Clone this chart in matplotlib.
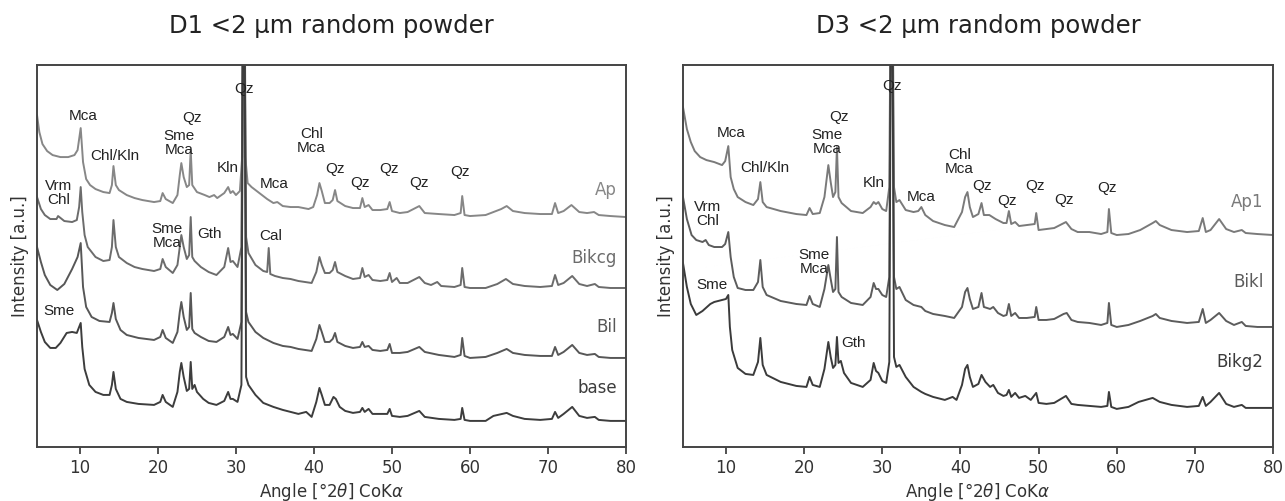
import matplotlib
matplotlib.use("Agg")
import numpy as np
import matplotlib.pyplot as plt

plt.rcParams["font.family"] = ["DejaVu Sans"]
plt.rcParams["mathtext.fontset"] = "dejavusans"

# D1 panel - (angle, intensity), arbitrary units
d1_ap_angle = [4.5, 4.8, 5.2, 5.8, 6.5, 7.5, 8.5, 9.3, 9.7, 10.1, 10.4, 10.8, 11.3, 12, 13, 13.8, 14.1, 14.3, 14.6, 15, 16, 17, 18, 19.5, 20.3, 20.6, 21, 21.9, 22.5, 22.8, 23.0, 23.3, 23.7, 24.0, 24.2, 24.4, 25, 26, 26.6, 27.2, 27.6, 28.5, 29.0, 29.3, 29.6, 30.0, 30.5, 30.8, 31.0, 31.2, 31.5, 32, 33, 34, 34.8, 35.3, 36, 37, 38, 39.3, 39.9, 40.4, 40.7, 41.0, 41.4, 42, 42.4, 42.7, 43, 44, 45, 45.9, 46.2, 46.5, 47, 47.5, 48.5, 49.4, 49.7, 50, 51, 52, 53.5, 54.2, 56, 58, 58.8, 59.0, 59.3, 60, 62, 64, 64.7, 65.5, 67, 69, 70.5, 70.9, 71.3, 72, 73.0, 74, 75, 75.9, 76.5, 78, 80]
d1_ap_int = [332, 315, 303, 296, 292, 290, 290, 292, 297, 319, 285, 268, 262, 258, 255, 254, 262, 281, 262, 257, 252, 249, 247, 245, 246, 254, 248, 244, 252, 272, 284, 270, 260, 262, 297, 262, 255, 252, 250, 252, 249, 254, 260, 254, 256, 252, 256, 290, 600, 290, 264, 260, 254, 248, 244, 245, 241, 240, 240, 238, 240, 252, 264, 256, 244, 244, 247, 257, 246, 241, 239, 239, 249, 240, 242, 237, 237, 238, 245, 236, 234, 235, 241, 234, 233, 232, 234, 251, 232, 231, 232, 238, 241, 236, 234, 233, 233, 244, 234, 236, 242, 235, 234, 235, 232, 231, 230]

d1_bikcg_angle = [4.5, 5.0, 5.5, 6.2, 7.0, 7.2, 8, 9, 9.6, 9.9, 10.1, 10.3, 10.6, 11, 12, 13, 13.8, 14.1, 14.3, 14.6, 15, 16, 17, 18, 19.5, 20.3, 20.6, 21, 21.9, 22.5, 22.8, 23.0, 23.3, 23.7, 24.0, 24.2, 24.4, 24.7, 25.5, 26.5, 27.5, 28.5, 29.0, 29.3, 29.6, 30.2, 30.7, 31.0, 31.3, 31.6, 32.5, 33.5, 34.0, 34.2, 34.4, 35, 36, 37, 38, 39.7, 40.3, 40.7, 41.0, 41.4, 42, 42.4, 42.7, 43, 44, 45, 45.9, 46.2, 46.5, 47, 47.5, 48.5, 49.4, 49.7, 50, 50.6, 51, 52, 53.5, 54.2, 55, 55.8, 56.3, 58, 58.8, 59.0, 59.3, 60, 62, 63.5, 64.6, 65.5, 67, 69, 70.5, 70.9, 71.3, 72, 73.1, 74, 75, 76, 76.5, 78, 80]
d1_bikcg_int = [250, 238, 232, 228, 228, 231, 226, 225, 227, 240, 260, 235, 212, 200, 190, 186, 187, 200, 227, 200, 190, 184, 180, 178, 176, 178, 188, 180, 174, 182, 200, 212, 200, 188, 192, 230, 190, 186, 180, 175, 172, 180, 199, 185, 186, 180, 200, 600, 210, 194, 182, 176, 175, 199, 173, 171, 169, 168, 166, 164, 175, 190, 182, 174, 174, 177, 185, 175, 171, 168, 169, 179, 170, 172, 167, 166, 167, 174, 165, 169, 164, 164, 170, 164, 162, 165, 161, 160, 162, 179, 160, 159, 159, 163, 168, 163, 161, 160, 161, 172, 162, 164, 171, 163, 161, 163, 160, 159, 159]

d1_bil_angle = [4.5, 5.0, 5.5, 6.2, 7.1, 8, 9, 9.7, 10.1, 10.4, 10.8, 11.5, 12.5, 13.8, 14.1, 14.3, 14.6, 15.2, 16, 17.5, 19.5, 20.3, 20.6, 21, 21.9, 22.5, 22.8, 23.0, 23.3, 23.7, 24.0, 24.2, 24.4, 24.7, 25.5, 26.5, 27.5, 28.5, 29.0, 29.3, 29.6, 30.2, 30.7, 31.0, 31.3, 31.6, 32.5, 33.5, 34.8, 36, 37, 38, 39.7, 40.3, 40.7, 41.0, 41.4, 42, 42.4, 42.7, 43, 44, 45, 45.9, 46.2, 46.5, 47, 47.5, 48.5, 49.4, 49.7, 50, 51, 52, 53.5, 54.2, 56, 58, 58.8, 59.0, 59.3, 60, 62, 63.5, 64.7, 65.5, 67, 69, 70.5, 70.9, 71.3, 72, 73.1, 74, 75, 76, 76.5, 78, 80]
d1_bil_int = [200, 185, 172, 162, 157, 163, 178, 190, 204, 160, 140, 130, 126, 125, 134, 144, 128, 117, 112, 109, 107, 110, 117, 109, 104, 115, 135, 145, 130, 117, 120, 154, 118, 114, 110, 106, 105, 110, 120, 112, 113, 108, 125, 600, 135, 125, 115, 109, 104, 101, 100, 98, 96, 108, 122, 115, 105, 105, 108, 114, 105, 101, 99, 100, 105, 100, 101, 97, 96, 97, 103, 94, 94, 95, 100, 95, 92, 90, 92, 109, 91, 89, 90, 94, 98, 94, 92, 91, 91, 100, 92, 95, 102, 94, 92, 93, 90, 89, 89]

d1_base_angle = [4.5, 5.0, 5.5, 6.2, 6.9, 7.5, 8.3, 9.0, 9.6, 10.1, 10.3, 10.6, 11.2, 12, 13, 13.8, 14.1, 14.3, 14.6, 15.2, 16, 17.5, 19.5, 20.3, 20.6, 21, 21.9, 22.5, 22.8, 23.0, 23.3, 23.7, 24.0, 24.2, 24.4, 24.7, 25.0, 25.8, 26.5, 27.5, 28.5, 29.0, 29.3, 29.6, 30.2, 30.7, 31.0, 31.3, 31.6, 32.5, 33.5, 34.8, 36, 37, 38, 39, 39.7, 40.3, 40.7, 41.0, 41.4, 42, 42.5, 42.8, 43.3, 44, 45, 45.9, 46.2, 46.5, 47, 47.5, 48.5, 49.4, 49.7, 50, 51, 52, 53.5, 54.2, 56, 58, 58.8, 59.0, 59.3, 60, 62, 63, 64.7, 65.5, 67, 69, 70.5, 70.9, 71.3, 72, 73.1, 74, 75, 76, 76.5, 78, 80]
d1_base_int = [127, 115, 105, 99, 99, 104, 114, 115, 114, 124, 100, 78, 62, 55, 52, 52, 62, 75, 58, 48, 45, 43, 42, 45, 52, 45, 40, 55, 75, 84, 70, 56, 58, 85, 58, 62, 55, 48, 44, 42, 46, 55, 48, 48, 45, 62, 600, 70, 62, 52, 44, 40, 37, 35, 33, 35, 30, 45, 59, 52, 42, 42, 50, 48, 40, 36, 34, 35, 39, 35, 38, 33, 33, 33, 38, 31, 30, 31, 36, 30, 28, 27, 28, 39, 27, 26, 26, 31, 34, 31, 28, 27, 28, 35, 29, 33, 40, 31, 29, 30, 27, 26, 26]

# D3 panel
d3_ap1_angle = [4.5, 5.0, 5.5, 6.0, 6.7, 7.5, 8.5, 9.5, 9.9, 10.3, 10.6, 11.0, 11.5, 12.5, 13.5, 14.1, 14.4, 14.7, 15.2, 17, 19, 20.3, 20.7, 21.1, 22, 22.6, 23.1, 23.4, 23.7, 24.0, 24.2, 24.4, 24.8, 26, 27.5, 28.5, 28.9, 29.2, 29.5, 30.0, 30.5, 30.9, 31.2, 31.5, 31.8, 32.2, 33, 34, 34.6, 35.0, 35.5, 36.5, 38, 39.2, 40.2, 40.6, 40.9, 41.2, 41.6, 42.3, 42.7, 43.0, 43.7, 44.5, 45.5, 45.9, 46.2, 46.5, 47.0, 47.5, 48.5, 49.5, 49.7, 50.0, 51, 52, 53.5, 54.2, 55, 56.5, 58, 58.8, 59.0, 59.3, 60, 61.5, 63, 64.6, 65.0, 65.5, 67, 69, 70.5, 71.0, 71.4, 72, 73.1, 74, 75, 76, 76.5, 78, 80]
d3_ap1_int = [340, 318, 305, 296, 290, 287, 285, 282, 286, 301, 270, 258, 250, 245, 242, 248, 265, 245, 240, 236, 233, 232, 239, 233, 234, 250, 282, 265, 250, 255, 300, 250, 244, 236, 234, 240, 245, 243, 245, 238, 236, 260, 600, 260, 245, 247, 237, 235, 236, 240, 232, 226, 222, 220, 235, 250, 255, 240, 230, 233, 244, 232, 232, 228, 224, 224, 236, 223, 225, 221, 222, 223, 234, 217, 218, 219, 225, 218, 215, 215, 213, 215, 238, 214, 212, 213, 217, 224, 226, 222, 217, 215, 216, 229, 215, 217, 228, 218, 215, 217, 214, 213, 212]

d3_bikl_angle = [4.5, 5.0, 5.6, 6.2, 7.0, 7.4, 7.8, 8.5, 9.5, 9.9, 10.3, 10.6, 11, 11.5, 12.5, 13.5, 14.1, 14.4, 14.7, 15.2, 17, 19, 20.3, 20.7, 21.1, 22, 22.6, 23.1, 23.4, 23.7, 24.0, 24.2, 24.4, 24.8, 26, 27.5, 28.5, 28.9, 29.2, 29.5, 30.0, 30.5, 30.9, 31.2, 31.5, 31.8, 32.2, 33, 34, 35.0, 35.5, 36.5, 38, 39.2, 40.2, 40.6, 40.9, 41.2, 41.6, 42.3, 42.7, 43.0, 43.8, 44.2, 44.8, 45.5, 45.9, 46.2, 46.5, 47.0, 47.5, 48.5, 49.5, 49.7, 50.0, 51, 52, 53.2, 53.6, 54.2, 55, 56.5, 58, 58.8, 59.0, 59.3, 60, 61.5, 63, 64.6, 65.0, 65.5, 67, 69, 70.5, 71.0, 71.4, 72, 73.1, 74, 75, 76, 76.5, 78, 80]
d3_bikl_int = [250, 228, 212, 207, 205, 207, 202, 200, 200, 203, 215, 190, 170, 159, 157, 157, 165, 187, 160, 152, 146, 143, 142, 151, 143, 140, 158, 182, 168, 155, 158, 210, 155, 150, 144, 142, 150, 164, 158, 158, 152, 150, 170, 600, 170, 158, 160, 147, 142, 140, 136, 133, 131, 129, 140, 155, 159, 148, 138, 140, 154, 140, 138, 140, 134, 131, 132, 143, 131, 134, 129, 129, 130, 140, 127, 127, 128, 133, 134, 127, 125, 124, 122, 124, 144, 122, 120, 122, 126, 131, 133, 129, 126, 124, 125, 138, 124, 127, 134, 126, 122, 125, 121, 120, 120]

d3_bikg2_angle = [4.5, 5.0, 5.5, 6.2, 7.0, 8.0, 8.5, 9.5, 10.0, 10.3, 10.5, 10.8, 11.5, 12.5, 13.5, 14.1, 14.4, 14.7, 15.2, 17, 19, 20.3, 20.7, 21.1, 22, 22.6, 23.1, 23.4, 23.7, 24.0, 24.2, 24.4, 24.7, 25.1, 26, 27.5, 28.5, 28.9, 29.2, 29.5, 30.0, 30.5, 30.9, 31.2, 31.5, 31.8, 32.2, 33, 34, 35.0, 35.5, 36.5, 38, 39.0, 39.5, 40.2, 40.6, 40.9, 41.2, 41.6, 42.3, 42.7, 43.2, 43.8, 44.2, 44.8, 45.5, 45.9, 46.2, 46.5, 47.0, 47.5, 48.3, 49.0, 49.7, 50.0, 51, 52, 53.5, 54.2, 55, 56.5, 58, 58.8, 59.0, 59.3, 60, 61.5, 62.8, 64.6, 65.5, 67, 69, 70.5, 71.0, 71.4, 72, 73.1, 74, 75, 76, 76.5, 78, 80]
d3_bikg2_int = [184, 160, 143, 132, 136, 143, 145, 147, 148, 152, 120, 97, 79, 73, 72, 85, 109, 82, 72, 65, 61, 60, 70, 62, 60, 78, 105, 90, 79, 82, 110, 84, 86, 74, 64, 60, 67, 84, 76, 74, 66, 64, 85, 600, 90, 80, 82, 70, 60, 55, 53, 50, 47, 50, 47, 62, 78, 82, 70, 60, 63, 72, 65, 60, 62, 54, 51, 52, 57, 50, 54, 49, 51, 47, 54, 44, 43, 44, 51, 43, 42, 41, 40, 41, 55, 40, 38, 40, 45, 49, 45, 42, 40, 41, 50, 41, 45, 54, 43, 40, 42, 39, 39, 39]

d1_names = ["Ap", "Bikcg", "Bil", "base"]
d1_label_y = [257, 189, 120, 59]
d1_colors = ["#878787", "#6c6c6c", "#575757", "#3d3d3d"]
d3_names = ["Ap1", "Bikl", "Bikg2"]
d3_label_y = [245, 165, 85]
d3_colors = ["#7a7a7a", "#5c5c5c", "#3b3b3b"]

# mineral labels: (text, angle, intensity)
d1_minerals = [("Qz", 31.0, 358), ("Mca", 10.4, 331), ("Qz", 24.4, 329), ("Sme\nMca", 22.7, 304),
               ("Chl/Kln", 14.5, 291), ("Kln", 28.9, 279), ("Mca", 34.9, 263),
               ("Chl\nMca", 39.7, 306), ("Vrm\nChl", 7.3, 254), ("Sme\nMca", 21.2, 211),
               ("Gth", 26.6, 213), ("Cal", 34.5, 211), ("Qz", 42.7, 278), ("Qz", 45.9, 264),
               ("Qz", 49.6, 278), ("Qz", 53.5, 264), ("Qz", 58.7, 275), ("Sme", 7.3, 136)]
d3_minerals = [("Qz", 31.2, 361), ("Mca", 10.7, 314), ("Qz", 24.4, 330), ("Sme\nMca", 22.9, 305),
               ("Chl/Kln", 15.0, 279), ("Kln", 28.9, 264), ("Mca", 35.0, 250),
               ("Chl\nMca", 39.9, 285), ("Vrm\nChl", 7.7, 233), ("Sme\nMca", 21.3, 185),
               ("Gth", 26.3, 104), ("Qz", 42.7, 261), ("Qz", 45.9, 246),
               ("Qz", 49.6, 261), ("Qz", 53.3, 247), ("Qz", 58.7, 259), ("Sme", 8.2, 162)]

fig = plt.figure(figsize=(12.85, 5.01), dpi=100)
ax1 = fig.add_axes([0.0288, 0.108, 0.4584, 0.762])
ax2 = fig.add_axes([0.5315, 0.108, 0.4592, 0.762])

panels = [
    (ax1, "D1 <2 \u03bcm random powder",
     [(d1_ap_angle, d1_ap_int), (d1_bikcg_angle, d1_bikcg_int), (d1_bil_angle, d1_bil_int), (d1_base_angle, d1_base_int)],
     d1_names, d1_label_y, d1_colors, d1_minerals),
    (ax2, "D3 <2 \u03bcm random powder",
     [(d3_ap1_angle, d3_ap1_int), (d3_bikl_angle, d3_bikl_int), (d3_bikg2_angle, d3_bikg2_int)],
     d3_names, d3_label_y, d3_colors, d3_minerals),
]

for ax, title, curves, names, label_y, colors, minerals in panels:
    for (x, y), name, ly, c in zip(curves, names, label_y, colors):
        ax.plot(x, y, color=c, lw=1.4)
        ax.text(78.8, ly, name, ha="right", va="center", fontsize=12, color=c)
    for txt, xa, ya in minerals:
        ax.text(xa, ya, txt, ha="center", va="center", fontsize=11,
                family="Liberation Sans", color="#222222", linespacing=0.95)
    ax.set_xlim(4.5, 80)
    ax.set_ylim(0, 382)
    ax.set_yticks([])
    ax.set_xticks(np.arange(10, 81, 10))
    ax.tick_params(axis="x", labelsize=12, colors="#333333", length=5, width=1.2)
    for s in ax.spines.values():
        s.set_color("#444444")
        s.set_linewidth(1.4)
    ax.set_xlabel("Angle [\u00b02$\\theta$] CoK$\\alpha$", fontsize=12, color="#333333", labelpad=3)
    ax.set_ylabel("Intensity [a.u.]", fontsize=12, color="#333333", labelpad=6)
    ax.set_title(title, fontsize=17.5, color="#222222", pad=23)

fig.savefig("out.png", dpi=100)
